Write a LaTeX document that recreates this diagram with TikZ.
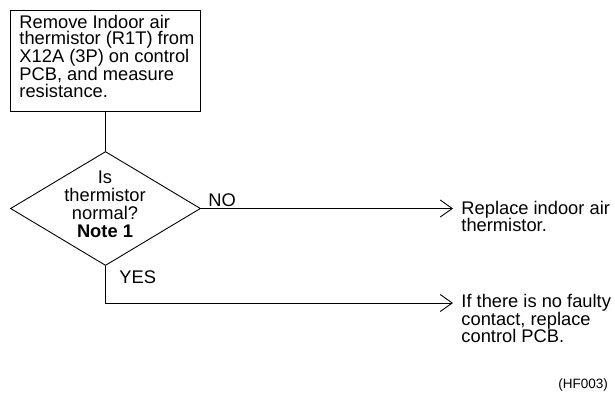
\documentclass[tikz,border=0pt]{standalone}
\usepackage{fontspec}
\setmainfont{Liberation Sans}
\usetikzlibrary{arrows.meta,shapes.geometric}
\begin{document}
\begin{tikzpicture}[x=1pt,y=-1pt, line width=0.9pt,
  txt/.style={inner sep=0, font=\fontsize{18.3}{16.7}\selectfont, align=left, anchor=base west},
  tip/.style={-{Straight Barb[length=12pt,width=17pt,line width=0.9pt]}}]
\useasboundingbox (0,0) rectangle (615,394);
\node[draw, minimum width=190pt, minimum height=101pt, inner sep=0, anchor=north west] (box) at (10,10) {};
\node[txt] (boxt) at (19,97.5) {Remove Indoor air\\thermistor (R1T) from\\X12A (3P) on control\\PCB, and measure\\resistance.};
\node[draw, diamond, minimum width=190pt, minimum height=114pt, inner sep=0] (dia) at (105.5,208.5) {};
\node[txt, font=\fontsize{18.3}{18}\selectfont, align=center, anchor=base] (q) at (105,237) {Is\\thermistor\\normal?\\\textbf{Note 1}};
\coordinate (noend) at (453,208.5);
\coordinate (yesend) at (453,303);
\draw (box.south -| dia.north) -- (dia.north);
\draw[tip] (dia.east) -- (noend);
\draw[tip] (dia.south) |- (yesend);
\node[txt] (no) at (208,206) {NO};
\node[txt] (yes) at (119,283) {YES};
\node[txt, font=\fontsize{18.3}{17.3}\selectfont] (rep) at (461,231.5) {Replace indoor air\\thermistor.};
\node[txt, font=\fontsize{18.3}{17.3}\selectfont] (pcb) at (461,342.5) {If there is no faulty\\contact, replace\\control PCB.};
\node[txt, font=\fontsize{13.5}{16}\selectfont] (hf) at (558,388) {(HF003)};
\end{tikzpicture}
\end{document}
